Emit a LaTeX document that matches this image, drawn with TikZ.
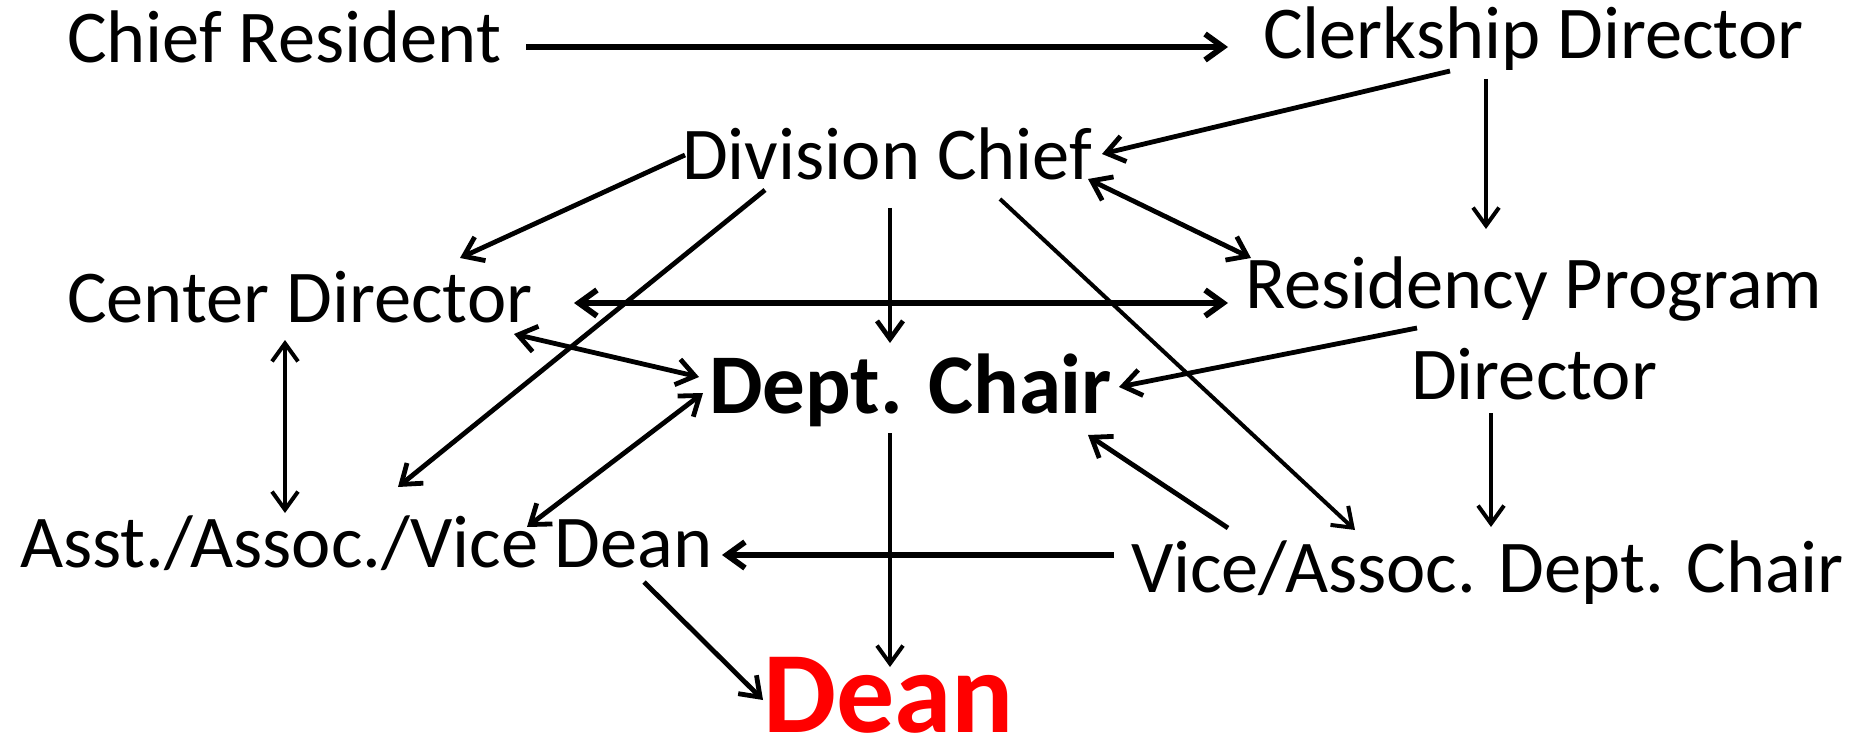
\documentclass[tikz,border=0pt]{standalone}
\usepackage{fontspec}
\setmainfont{Carlito}
\usetikzlibrary{arrows.meta}
\tikzset{
  lbl/.style={anchor=base west, inner sep=0pt, outer sep=0pt, font=\fontsize{74.5}{80}\selectfont},
  conn/.style={line width=4.8pt, -{Straight Barb[length=18pt,width=26pt]}},
  twoway/.style={line width=4.8pt, {Straight Barb[length=18pt,width=26pt]}-{Straight Barb[length=18pt,width=26pt]}},
  heavy/.style={line width=5.8pt},
  light/.style={line width=4pt},
}
\begin{document}
\begin{tikzpicture}[x=1pt,y=-1pt]
\fill[white] (0,0) rectangle (1849,743);
\useasboundingbox (0,0) rectangle (1849,743);

\node[lbl] (cr)  at (67,63)    {Chief Resident};
\node[lbl] (cd)  at (1263,59)  {Clerkship Director};
\node[lbl] (dc)  at (682,180)  {Division Chief};
\node[lbl] (ce)  at (67,322)   {Center Director};
\node[lbl] (rp1) at (1245,308) {Residency Program};
\node[lbl] (rp2) at (1411,399) {Director};
\node[lbl, font=\fontsize{85}{90}\selectfont\bfseries] (ch) at (709,413) {Dept. Chair};
\node[lbl] (ad)  at (20,567)   {Asst./Assoc./Vice Dean};
\node[lbl] (vc)  at (1131,592) {Vice/Assoc. Dept. Chair};
\node[lbl, text depth=0pt, font=\fontsize{116}{120}\selectfont\bfseries, text={rgb,255:red,255;green,0;blue,0}] (dn) at (763,732) {Dean};

% Chief Resident -> Clerkship Director
\draw[conn, heavy] ([shift={(459,-16)}]cr.base west) -- ([shift={(-35,-12)}]cd.base west);
% Clerkship Director -> Division Chief
\draw[conn] ([shift={(187,12)}]cd.base west) -- ([shift={(420,-26)}]dc.base west);
% Clerkship Director -> Residency Program
\draw[conn, light] ([shift={(223,20)}]cd.base west) -- ([shift={(241,-79)}]rp1.base west);
% Division Chief -> Center Director
\draw[conn] ([shift={(3,-25)}]dc.base west) -- ([shift={(393,-64)}]ce.base west);
% Division Chief -> Dept. Chair
\draw[conn] ([shift={(208,28)}]dc.base west) -- ([shift={(181,-70)}]ch.base west);
% Division Chief -> Asst. Dean
\draw[conn] ([shift={(83,10)}]dc.base west) -- ([shift={(378,-80)}]ad.base west);
% Division Chief -> Vice/Assoc. Dept. Chair
\draw[conn, light] ([shift={(318,19)}]dc.base west) -- ([shift={(224,-62)}]vc.base west);
% Division Chief <-> Residency Program
\draw[twoway] ([shift={(406,-1)}]dc.base west) -- ([shift={(6,-50)}]rp1.base west);
% Center Director <-> Residency Program
\draw[twoway, heavy] ([shift={(507,-19)}]ce.base west) -- ([shift={(-17,-5)}]rp1.base west);
% Center Director <-> Dept. Chair
\draw[twoway] ([shift={(447,12)}]ce.base west) -- ([shift={(-10,-36)}]ch.base west);
% Residency Program -> Dept. Chair
\draw[conn] ([shift={(172,20)}]rp1.base west) -- ([shift={(410,-26)}]ch.base west);
% Center Director <-> Asst. Dean
\draw[twoway, light] ([shift={(218,18)}]ce.base west) -- ([shift={(265,-54)}]ad.base west);
% Dept. Chair <-> Asst. Dean
\draw[twoway] ([shift={(-6,-20)}]ch.base west) -- ([shift={(507,-40)}]ad.base west);
% Dept. Chair -> Dean
\draw[conn, light] ([shift={(181,20)}]ch.base west) -- ([shift={(127,-65)}]dn.base west);
% Residency Program Director -> Vice/Assoc. Dept. Chair
\draw[conn, light] ([shift={(80,14)}]rp2.base west) -- ([shift={(360,-65)}]vc.base west);
% Vice/Assoc. Dept. Chair -> Dept. Chair
\draw[conn] ([shift={(97,-64)}]vc.base west) -- ([shift={(379,22)}]ch.base west);
% Vice/Assoc. Dept. Chair -> Asst. Dean
\draw[conn, heavy] ([shift={(-17,-37)}]vc.base west) -- ([shift={(702,-12)}]ad.base west);
% Asst. Dean -> Dean
\draw[conn] ([shift={(624,15)}]ad.base west) -- ([shift={(0,-32)}]dn.base west);
\end{tikzpicture}
\end{document}
